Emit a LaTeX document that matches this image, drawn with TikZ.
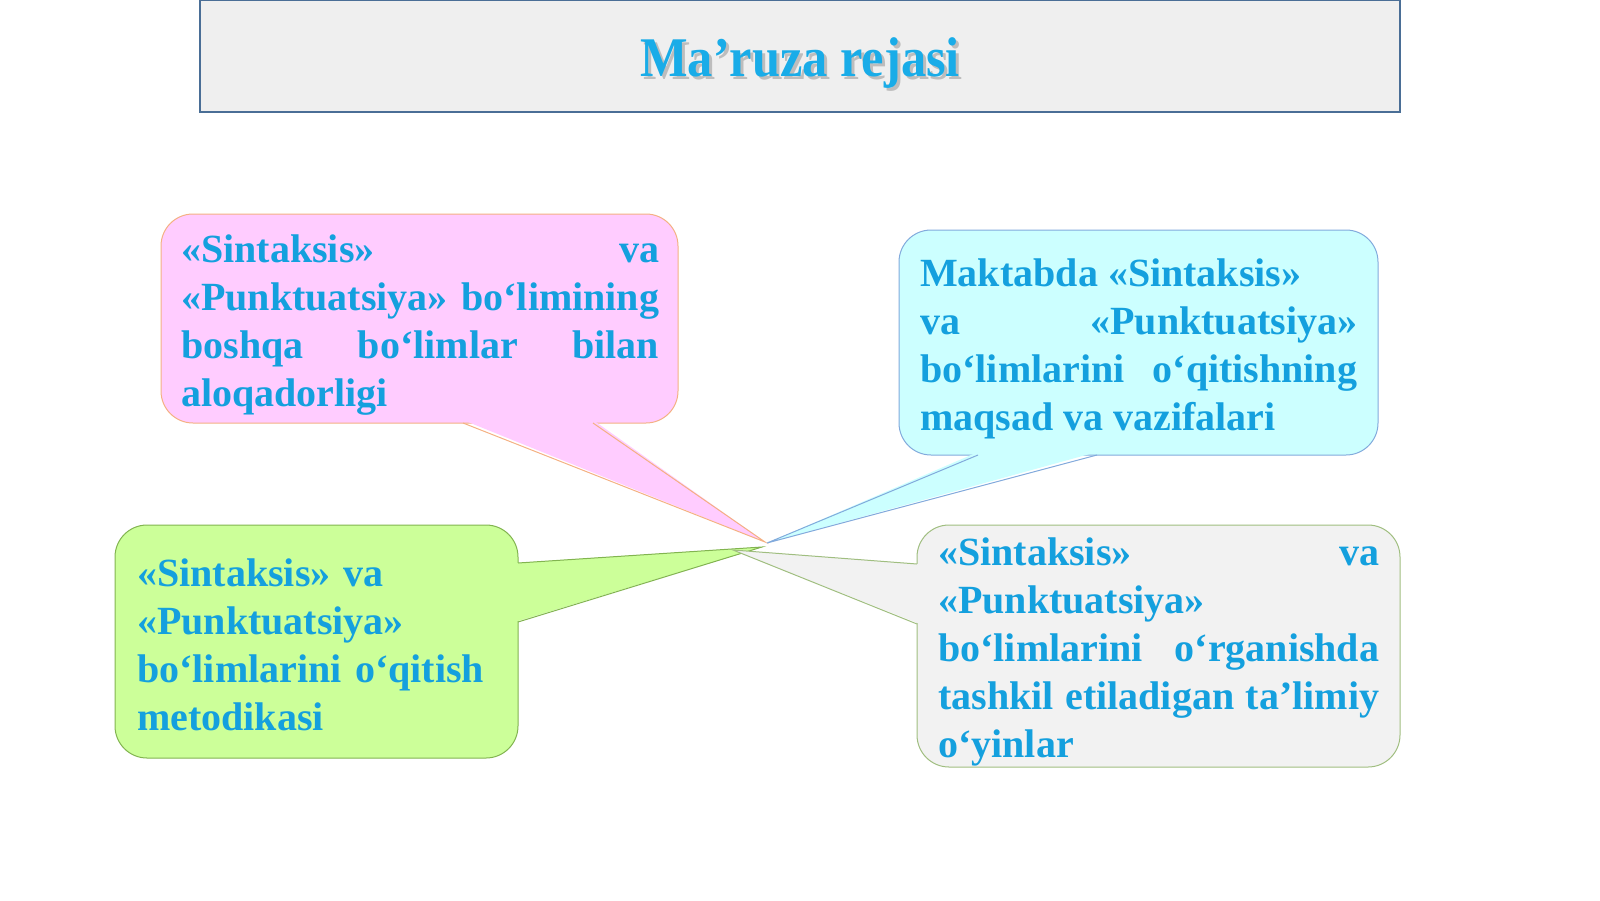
\documentclass[tikz,border=0pt]{standalone}
\usepackage{fontspec}
\setmainfont{Liberation Serif}
\newfontfamily\titlefont[FakeStretch=0.9]{Liberation Serif}
\usetikzlibrary{calc,positioning}
\definecolor{txtblue}{RGB}{20,160,222}
\definecolor{titleblue}{RGB}{25,172,232}
\definecolor{titlefill}{RGB}{239,239,239}
\definecolor{titleline}{RGB}{74,110,150}
\definecolor{pinkfill}{RGB}{255,204,255}
\definecolor{pinkline}{RGB}{244,177,131}
\definecolor{cyanfill}{RGB}{204,255,255}
\definecolor{cyanline}{RGB}{130,170,220}
\definecolor{greenfill}{RGB}{204,255,153}
\definecolor{greenline}{RGB}{130,180,80}
\definecolor{greyfill}{RGB}{242,242,242}
\definecolor{greyline}{RGB}{160,190,128}
\hyphenpenalty=10000
\exhyphenpenalty=10000
\tolerance=10000
\tikzset{bodytext/.style={text=txtblue,font=\fontsize{40}{48}\selectfont\bfseries,inner sep=0pt,anchor=base west}}

\begin{document}
\begin{tikzpicture}[x=1pt,y=-1pt]

\tikzset{
callout/.style={rounded corners=32pt,line width=1pt,anchor=north west,inner sep=0pt,outer sep=0pt},
pinkbox/.style={fill=pinkfill,draw=pinkline},
cyanbox/.style={fill=cyanfill,draw=cyanline},
greenbox/.style={fill=greenfill,draw=greenline},
greybox/.style={fill=greyfill,draw=greyline},
tail/.style={line width=1pt,line join=miter},
titlebox/.style={fill=titlefill,draw=titleline,line width=1.5pt,anchor=north west,inner sep=0pt,outer sep=0pt},
titletext/.style={font=\titlefont\fontsize{56}{60}\selectfont\bfseries,inner sep=0pt,anchor=base}
}

\useasboundingbox (0,0) rectangle (1600,900);

% Title
\node[titlebox, minimum width=1200pt, minimum height=112pt] (titlebox) at (200,0) {};
\node[titletext, text=black!55, opacity=.4] (titleshadow) at (803,79) {Ma’ruza rejasi};
\node[titletext, text=titleblue] (title) at (800,76) {Ma’ruza rejasi};

% Tips
\coordinate (pinktip) at (765,542);
\coordinate (cyantip) at (767,543);
\coordinate (greentip) at (762,547);
\coordinate (greytip) at (733,550);

% Boxes
\node[callout, pinkbox, minimum width=517pt, minimum height=209pt] (pink) at (161,214) {};
\node[callout, cyanbox, minimum width=479pt, minimum height=225pt] (cyan) at (899,230) {};
\node[callout, greenbox, minimum width=403pt, minimum height=233pt] (green) at (115,525) {};
\node[callout, greybox, minimum width=483pt, minimum height=242pt] (grey) at (917,525) {};

% Tails
\coordinate (pinkL) at ($(pink.south west)+(302,0)$);
\coordinate (pinkR) at ($(pink.south west)+(432,0)$);
\fill[pinkfill] ($(pinkL)+(0,-3)$) -- (pinktip) -- ($(pinkR)+(0,-3)$) -- cycle;
\draw[tail, pinkline] (pinkL) -- (pinktip) -- (pinkR);

\coordinate (cyanL) at ($(cyan.south west)+(79,0)$);
\coordinate (cyanR) at ($(cyan.south west)+(198,0)$);
\fill[cyanfill] ($(cyanL)+(0,-3)$) -- (cyantip) -- ($(cyanR)+(0,-3)$) -- cycle;
\draw[tail, cyanline] (cyanL) -- (cyantip) -- (cyanR);

\coordinate (greenT) at ($(green.north east)+(0,38)$);
\coordinate (greenB) at ($(green.north east)+(0,97)$);
\fill[greenfill] ($(greenT)+(-3,0)$) -- (greentip) -- ($(greenB)+(-3,0)$) -- cycle;
\draw[tail, greenline] (greenT) -- (greentip) -- (greenB);

\coordinate (greyT) at ($(grey.north west)+(0,39)$);
\coordinate (greyB) at ($(grey.north west)+(0,99)$);
\fill[greyfill] ($(greyT)+(3,0)$) -- (greytip) -- ($(greyB)+(3,0)$) -- cycle;
\draw[tail, greyline] (greyT) -- (greytip) -- (greyB);

% Labels
\node[bodytext, text width=478pt, align=justify] (pinktext) at ($(pink.north west)+(20,48)$)
  {«Sintaksis» va\linebreak «Punktuatsiya» bo‘limining\linebreak boshqa bo‘limlar bilan\linebreak aloqadorligi};
\node[bodytext, text width=437pt, align=justify] (cyantext) at ($(cyan.north west)+(21,56)$)
  {Maktabda «Sintaksis»\\ va «Punktuatsiya»\linebreak bo‘limlarini o‘qitishning\linebreak maqsad va vazifalari};
\node[bodytext, text width=370pt, align=left] (greentext) at ($(green.north west)+(22,61)$)
  {«Sintaksis» va\\ «Punktuatsiya»\\ bo‘limlarini o‘qitish\\ metodikasi};
\node[bodytext, text width=441pt, align=justify] (greytext) at ($(grey.north west)+(21,40)$)
  {«Sintaksis» va\linebreak «Punktuatsiya»\\ bo‘limlarini o‘rganishda\linebreak tashkil etiladigan ta’limiy\linebreak o‘yinlar};

\end{tikzpicture}
\end{document}
